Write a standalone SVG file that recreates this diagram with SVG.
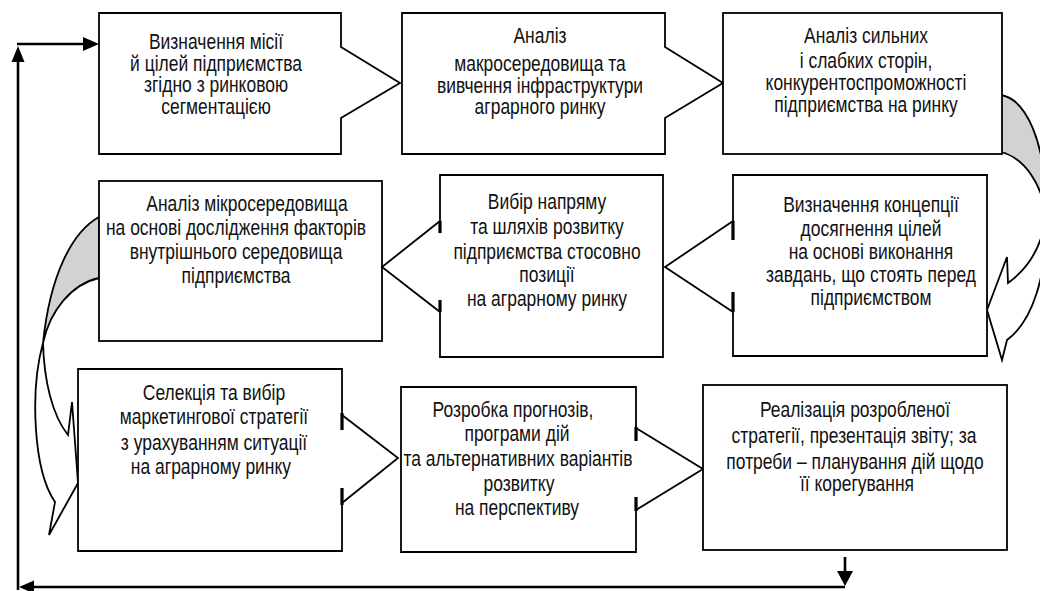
<svg xmlns="http://www.w3.org/2000/svg" width="1040" height="591" viewBox="0 0 1040 591">
<defs>
<style>
.box{fill:#fff;stroke:#000;stroke-width:1.8;stroke-linejoin:miter}
.tick{stroke:#000;stroke-width:3.2;fill:none}
.t{font-family:"Liberation Sans",Arial,sans-serif;font-size:21.3px;fill:#111;text-anchor:middle}
.ln{stroke:#000;stroke-width:2.6;fill:none}
.cg{fill:#d2d2d2;stroke:#000;stroke-width:1.8}
.cw{fill:#fff;stroke:#000;stroke-width:1.8}
</style>
</defs>
<rect width="1040" height="591" fill="#fff"/>

<g id="connectors">
<path class="ln" d="M18,590 V56"/>
<path d="M18,46 L11.5,62 L24.5,62 Z" fill="#000"/>
<path class="ln" d="M17,44 H85"/>
<path d="M99,44 L83,37 L83,51 Z" fill="#000"/>
<path class="ln" d="M845,587 H30"/>
<path d="M19,587 L34,580.5 L34,593.5 Z" fill="#000"/>
<path class="ln" d="M845,557 V574"/>
<path d="M845,586 L837,571 L853,571 Z" fill="#000"/>
<path class="cg" d="M1001,95 C1025,99 1047,140 1046,215 C1042,185 1025,158 1001,152 Z"/>
<path class="cw" d="M1046,215 C1048,275 1032,322 1007,340 L1002,360 L987,310 L1007,257 L1008,283 C1026,270 1042,250 1046,215 Z"/>
<path class="cg" d="M99,217 C72,232 50,275 43,343 C50,310 72,284 99,278 Z"/>
<path class="cw" d="M43,343 C30,390 33,470 55,502 L49,535 L78,483 L72,402 L68,435 C52,415 44,380 43,343 Z"/>
</g>

<g id="n1">
<path class="box" d="M99,13 H341 V47 L400,83 L341,118 V154 H99 Z"/>
<g transform="translate(216,0) scale(0.82,1)">
<text class="t" x="0" y="49.5">Визначення місії</text>
<text class="t" x="0" y="71">й цілей підприємства</text>
<text class="t" x="0" y="92.5">згідно з ринковою</text>
<text class="t" x="0" y="114.5">сегментацією</text>
</g>
</g>

<g id="n2">
<path class="box" d="M402,13 H665 V47 L723,83 L665,118 V154 H402 Z"/>
<g transform="translate(540,0) scale(0.82,1)">
<text class="t" x="0" y="43.5">Аналіз</text>
<text class="t" x="0" y="71">макросередовища та</text>
<text class="t" x="0" y="93">вивчення інфраструктури</text>
<text class="t" x="0" y="114.5">аграрного ринку</text>
</g>
</g>

<g id="n3">
<rect class="box" x="723" y="13" width="279" height="141"/>
<g transform="translate(866,0) scale(0.82,1)">
<text class="t" x="0" y="43.5">Аналіз сильних</text>
<text class="t" x="0" y="68.5">і слабких сторін,</text>
<text class="t" x="0" y="90.5">конкурентоспроможності</text>
<text class="t" x="0" y="112.5">підприємства на ринку</text>
</g>
</g>

<g id="n4">
<rect class="box" x="99" y="181" width="283" height="160"/>
<g transform="translate(236,0) scale(0.82,1)">
<text class="t" x="13.4" y="211.5">Аналіз мікросередовища</text>
<text class="t" x="0" y="235.5">на основі дослідження факторів</text>
<text class="t" x="0" y="259">внутрішнього середовища</text>
<text class="t" x="0" y="283.5">підприємства</text>
</g>
</g>

<g id="n5">
<path class="box" d="M440,175 H663 V357 H440 V312 L382,267 L440,221 Z"/>
<path class="tick" d="M440,221 V233 M440,300 V312"/>
<g transform="translate(547,0) scale(0.82,1)">
<text class="t" x="0" y="209">Вибір напряму</text>
<text class="t" x="0" y="234">та шляхів розвитку</text>
<text class="t" x="0" y="259">підприємства стосовно</text>
<text class="t" x="0" y="282.5">позиції</text>
<text class="t" x="0" y="306.5">на аграрному ринку</text>
</g>
</g>

<g id="n6">
<path class="box" d="M733,175 H987 V356 H733 V312 L665,267 L733,221 Z"/>
<path class="tick" d="M733,221 V240 M733,292 V312"/>
<g transform="translate(871,0) scale(0.82,1)">
<text class="t" x="0" y="212">Визначення концепції</text>
<text class="t" x="0" y="236.5">досягнення цілей</text>
<text class="t" x="0" y="259">на основі виконання</text>
<text class="t" x="0" y="282.5">завдань, що стоять перед</text>
<text class="t" x="0" y="305.5">підприємством</text>
</g>
</g>

<g id="n7">
<path class="box" d="M78,369 H342 V415 L398,458 L342,503 V551 H78 Z"/>
<path class="tick" d="M342,413 V430 M342,488 V505"/>
<g transform="translate(214,0) scale(0.82,1)">
<text class="t" x="0" y="400">Селекція та вибір</text>
<text class="t" x="0" y="424">маркетингової стратегії</text>
<text class="t" x="0" y="450.5">з урахуванням ситуації</text>
<text class="t" x="-3.7" y="474">на аграрному ринку</text>
</g>
</g>

<g id="n8">
<path class="box" d="M401,387 H636 V428 L703,469 L636,510 V552 H401 Z"/>
<path class="tick" d="M636,427 V441 M636,497 V511"/>
<g transform="translate(517,0) scale(0.82,1)">
<text class="t" x="-4.9" y="417">Розробка прогнозів,</text>
<text class="t" x="0" y="441.5">програми дій</text>
<text class="t" x="1.2" y="466.5">та альтернативних варіантів</text>
<text class="t" x="2.4" y="491">розвитку</text>
<text class="t" x="0" y="515.5">на перспективу</text>
</g>
</g>

<g id="n9">
<rect class="box" x="703" y="385" width="304" height="165"/>
<g transform="translate(855,0) scale(0.82,1)">
<text class="t" x="0" y="417">Реалізація розробленої</text>
<text class="t" x="-1.2" y="443.5">стратегії, презентація звіту; за</text>
<text class="t" x="0" y="469.5">потреби – планування дій щодо</text>
<text class="t" x="2.4" y="491">її корегування</text>
</g>
</g>
</svg>
